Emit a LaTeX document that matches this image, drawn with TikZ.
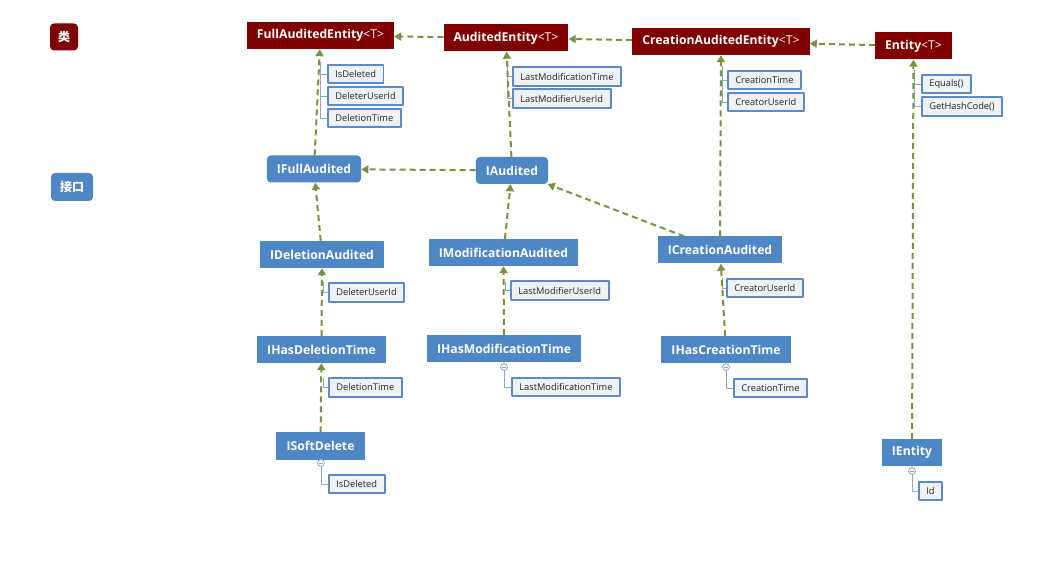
\documentclass[tikz,border=0pt]{standalone}
\usepackage{fontspec}
\setmainfont{Open Sans}
\newfontfamily\cjk{Noto Sans CJK SC}
\usetikzlibrary{arrows.meta}
\definecolor{clsred}{HTML}{7F0000}
\definecolor{itfblue}{HTML}{4F86C6}
\definecolor{inhgreen}{HTML}{77933C}
\definecolor{mbrfill}{HTML}{EEF1F6}
\definecolor{mbrline}{HTML}{5B8BC9}
\definecolor{treeline}{HTML}{8DA6C6}
\tikzset{
  cls/.style={fill=clsred, text=white, font=\fontsize{12.2}{14}\selectfont\bfseries,
    minimum height=27pt, inner xsep=10pt, inner ysep=0pt},
  itf/.style={fill=itfblue, text=white, font=\fontsize{12.2}{14}\selectfont\bfseries,
    minimum height=27pt, inner xsep=10pt, inner ysep=0pt},
  itfr/.style={itf, rounded corners=4pt},
  mbr/.style={draw=mbrline, line width=1.7pt, fill=mbrfill, text=black!85,
    font=\fontsize{9.3}{11}\selectfont, minimum height=18.5pt, inner xsep=7.5pt, inner ysep=0pt, anchor=west},
  inh/.style={->, draw=inhgreen, line width=2pt, dash pattern=on 6pt off 4pt},
  tree/.style={draw=treeline, line width=0.9pt},
  knob/.style={circle, draw=treeline, fill=white, line width=0.8pt, minimum size=7pt, inner sep=0pt,
    path picture={\draw[treeline, line width=0.7pt] ([xshift=-2pt]path picture bounding box.center)
      -- ([xshift=2pt]path picture bounding box.center);}}
}
\begin{document}
\begin{tikzpicture}[x=1pt, y=-1pt, line join=round, >={Triangle[width=8pt,length=7pt]}]
\useasboundingbox[fill=white] (0,0) rectangle (1061,561);
% legend
\node[cls, rounded corners=4pt, inner xsep=8pt, font=\fontsize{12}{14}\selectfont\cjk\bfseries] (lgcls) at (64,37) {类};
\node[itfr, inner xsep=9pt, minimum height=28pt, font=\fontsize{12}{14}\selectfont\cjk\bfseries] (lgitf) at (72,187) {接口};
% classes
\node[cls] (FAE) at (320.5,35.5) {FullAuditedEntity{\mdseries<T>}};
\node[cls] (AE) at (506,38) {AuditedEntity{\mdseries<T>}};
\node[cls] (CAE) at (721,41.5) {CreationAuditedEntity{\mdseries<T>}};
\node[cls] (ENT) at (913.5,46) {Entity{\mdseries<T>}};
% interfaces
\node[itfr] (IFA) at (314,169) {IFullAudited};
\node[itfr] (IA) at (512,170.5) {IAudited};
\node[itf] (IDA) at (322,254.5) {IDeletionAudited};
\node[itf] (IMA) at (503.5,252.5) {IModificationAudited};
\node[itf] (ICA) at (720,250) {ICreationAudited};
\node[itf] (IHDT) at (321.5,349.5) {IHasDeletionTime};
\node[itf] (IHMT) at (504,348.5) {IHasModificationTime};
\node[itf] (IHCT) at (726,349.5) {IHasCreationTime};
\node[itf] (ISD) at (320.5,446) {ISoftDelete};
\node[itf] (IENT) at (912,452.5) {IEntity};
% members
\foreach \n/\x/\y/\t in {a1/327/74/IsDeleted, a2/327/96/DeleterUserId, a3/327/118/DeletionTime,
  b1/512/76.5/LastModificationTime, b2/512/98.5/LastModifierUserId,
  c1/727/80/CreationTime, c2/727/102/CreatorUserId,
  d1/921/84/Equals(), d2/921/106.5/GetHashCode(),
  e1/328/292.5/DeleterUserId, f1/510/290.5/LastModifierUserId, g1/726/288/CreatorUserId,
  h1/328/387.5/DeletionTime, i1/511/387/LastModificationTime, j1/328/484/IsDeleted,
  k1/733/388/CreationTime, l1/918/491/Id}
  \node[mbr] (\n) at (\x,\y) {\t};
% member trees
\foreach \c/\x/\y in {ta/320/62, tb/507/64, tc/722/66, td/914/70, te/323/282, tf/505/282, tg/722/278, th/323/378}
  \coordinate (\c) at (\x,\y);
\draw[tree] (ta) |- (a1.west) (ta) |- (a2.west) (ta) |- (a3.west)
  (tb) |- (b1.west) (tb) |- (b2.west)
  (tc) |- (c1.west) (tc) |- (c2.west)
  (td) |- (d1.west) (td) |- (d2.west)
  (te) |- (e1.west) (tf) |- (f1.west) (tg) |- (g1.west) (th) |- (h1.west);
\foreach \c/\x/\y/\m in {ki/504/367/i1, kj/321/463/j1, kk/726/367/k1, kl/912/471/l1}{
  \coordinate (\c) at (\x,\y);
  \draw[tree] (\c) |- (\m.west);
  \node[knob] at (\c) {};}
% inheritance
\foreach \a/\b in {AE/FAE, CAE/AE, ENT/CAE, IFA/FAE, IA/AE, IA/IFA, IDA/IFA, IMA/IA, ICA/IA,
  ICA/CAE, IHDT/IDA, IHMT/IMA, IHCT/ICA, ISD/IHDT, IENT/ENT}
  \draw[inh] (\a) -- (\b);
\end{tikzpicture}
\end{document}
